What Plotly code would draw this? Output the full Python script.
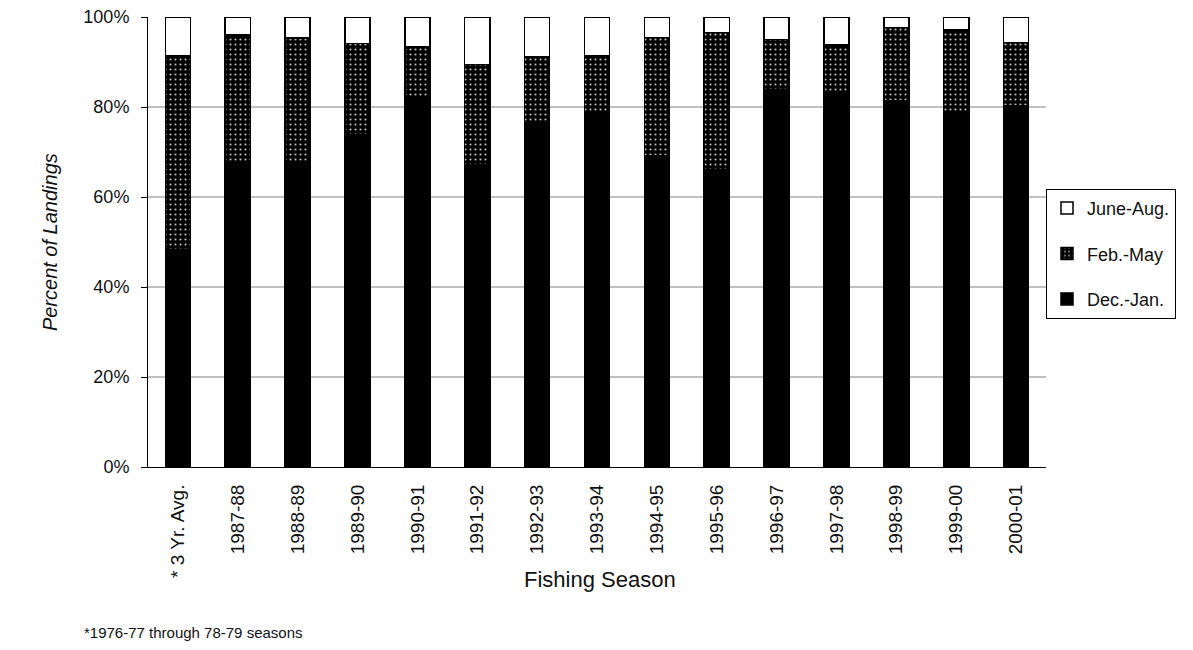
import plotly.graph_objects as go

# Fishing seasons (first entry is the 1976-77 .. 78-79 average)
seasons = ["* 3 Yr. Avg.", "1987-88", "1988-89", "1989-90", "1990-91", "1991-92",
           "1992-93", "1993-94", "1994-95", "1995-96", "1996-97", "1997-98",
           "1998-99", "1999-00", "2000-01"]

# Share of landings by period, percent
dec_jan = [48.2, 67.5, 67.8, 73.8, 82.3, 67.1, 76.4, 78.6, 69.1, 66.0, 83.9, 82.9, 81.4, 79.0, 80.2]
feb_may = [43.1, 28.5, 27.5, 20.3, 11.1, 22.4, 14.8, 12.7, 26.4, 30.6, 11.1, 10.9, 16.3, 18.1, 14.1]
june_aug = [8.7, 4.0, 4.7, 5.9, 6.6, 10.5, 8.8, 8.7, 4.5, 3.4, 5.0, 6.2, 2.3, 2.9, 5.7]

y_ticks = [0, 20, 40, 60, 80, 100]
y_tick_text = ["0%", "20%", "40%", "60%", "80%", "100%"]
grid_levels = [20, 40, 60, 80]

FONT = "Arial, Liberation Sans, sans-serif"
INK = "#111111"
outline = dict(color="black", width=1.5)

fig = go.Figure()
fig.add_trace(go.Bar(
    x=seasons, y=dec_jan, name="Dec.-Jan.", legendgroup="a", legendrank=3,
    marker=dict(color="black", line=outline),
))
fig.add_trace(go.Bar(
    x=seasons, y=feb_may, name="Feb.-May", legendgroup="b", legendrank=2,
    marker=dict(color="black", line=outline,
                pattern=dict(shape=".", fgcolor="#bdbdbd", bgcolor="black",
                             size=5, solidity=0.15, fillmode="replace")),
))
fig.add_trace(go.Bar(
    x=seasons, y=june_aug, name="June-Aug.", legendgroup="c", legendrank=1,
    marker=dict(color="white", line=outline),
))

# horizontal reference lines at the inner tick levels
shapes = [
    dict(type="line", xref="paper", yref="y", x0=0, x1=1, y0=v, y1=v,
         line=dict(color="#808080", width=1), layer="below")
    for v in grid_levels
]

fig.update_layout(
    barmode="stack",
    bargap=0.58,
    width=1193, height=650,
    margin=dict(l=148, r=147, t=17, b=183, autoexpand=False),
    plot_bgcolor="white", paper_bgcolor="white",
    font=dict(family=FONT, size=14, color=INK),
    shapes=shapes,
    showlegend=True,
    legend=dict(
        x=1.0, xanchor="left", y=0.618, yanchor="top",
        traceorder="grouped", tracegroupgap=19,
        bordercolor="black", borderwidth=1, bgcolor="white",
        font=dict(family=FONT, size=18, color=INK),
        itemwidth=30,
    ),
    xaxis=dict(
        type="category", automargin=False,
        showline=True, linecolor="black", linewidth=1,
        tickangle=-90, tickfont=dict(size=19, color=INK),
        ticks="", showgrid=False, ticklabelstandoff=9,
    ),
    yaxis=dict(
        range=[0, 100], tickvals=y_ticks, ticktext=y_tick_text,
        automargin=False,
        showline=True, linecolor="black", linewidth=1,
        ticks="outside", ticklen=6, tickcolor="black",
        ticklabelstandoff=8,
        showgrid=False, zeroline=False,
        tickfont=dict(size=18, color=INK),
    ),
    annotations=[
        dict(text="Fishing Season", xref="paper", yref="paper",
             x=0.503, y=-0.251, xanchor="center", yanchor="middle",
             showarrow=False, font=dict(size=22, color=INK)),
        dict(text="<i>Percent of Landings</i>", xref="paper", yref="paper",
             x=-0.109, y=0.5, xanchor="center", yanchor="middle", textangle=-90,
             showarrow=False, font=dict(size=20, color=INK)),
        dict(text="*1976-77 through 78-79 seasons", xref="paper", yref="paper",
             x=-0.073, y=-0.367, xanchor="left", yanchor="middle",
             showarrow=False, font=dict(size=15, color=INK)),
    ],
)

fig.write_html("out.html")
